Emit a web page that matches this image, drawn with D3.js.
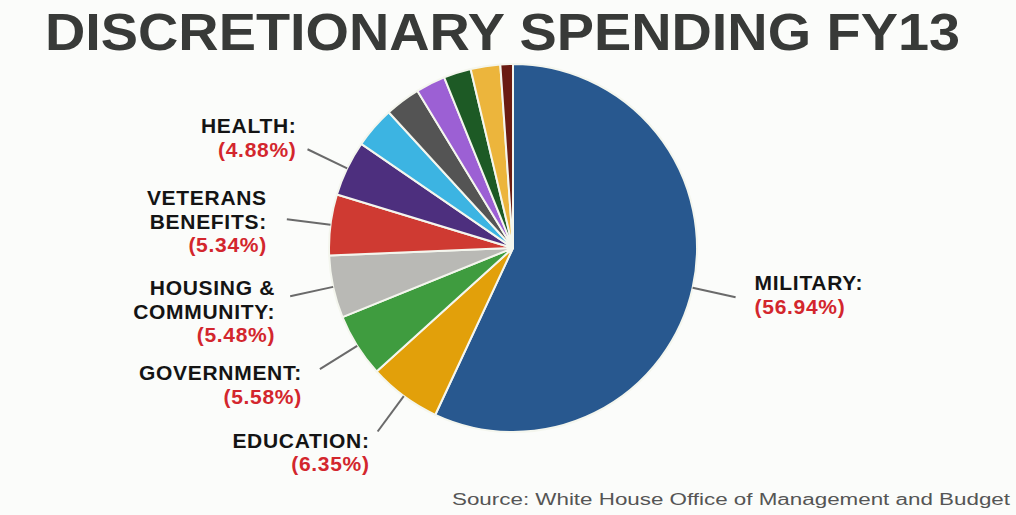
<!DOCTYPE html>
<html>
<head>
<meta charset="utf-8">
<script src="https://cdn.jsdelivr.net/npm/d3@7"></script>
<style>
  html, body { margin: 0; padding: 0; background: #fbfcfa; }
  svg { display: block; }
  .title { font-family: "Liberation Sans", Arial, sans-serif; font-weight: bold; fill: #383a38; }
  .lbl { font-family: "Liberation Sans", Arial, sans-serif; font-weight: bold; font-size: 21px; letter-spacing: 0.7px; }
  .lbl .name { fill: #141414; }
  .lbl .pct { fill: #d3262d; }
  .source { font-family: "Liberation Sans", Arial, sans-serif; font-size: 16px; fill: #555; }
  .leader { stroke: #6a6a6a; stroke-width: 2; fill: none; }
</style>
</head>
<body>
<svg id="chart" width="1016" height="515"></svg>
<script>
// slices, clockwise from 12 o'clock
const sliceIds = ['military', 'education', 'government', 'housing', 'veterans', 'health',
                  'other1', 'other2', 'other3', 'other4', 'other5', 'other6'];
const sliceValues = [56.94, 6.35, 5.58, 5.48, 5.34, 4.88, 3.63, 3.1, 2.6, 2.4, 2.6, 1.1];
const sliceColors = ['#28588f', '#e2a00a', '#3f9c3f', '#b9b9b5', '#cf3a32', '#4d2f7e',
                     '#3cb4e2', '#545454', '#9c60d4', '#1d5a25', '#ecb53c', '#6a1b12'];

// labelled slices only
const labelLines = {
  military: ['MILITARY:'],
  education: ['EDUCATION:'],
  government: ['GOVERNMENT:'],
  housing: ['HOUSING &', 'COMMUNITY:'],
  veterans: ['VETERANS', 'BENEFITS:'],
  health: ['HEALTH:']
};

const titleText = 'DISCRETIONARY SPENDING FY13';
const sourceText = 'Source: White House Office of Management and Budget';

///// layout /////
const cx = 513, cy = 248, r = 184, leadR = 228, lineH = 23.5;
// where the text block sits relative to the end of its leader line
const nudge = {
  military:   { dx: 19,  dy: -7,  anchor: 'start' },
  education:  { dx: -8,  dy: 16.5, anchor: 'end' },
  government: { dx: -18, dy: 11,  anchor: 'end' },
  housing:    { dx: -15, dy: -1,  anchor: 'end' },
  veterans:   { dx: -20, dy: -14, anchor: 'end' },
  health:     { dx: -11, dy: -16, anchor: 'end' }
};

const svg = d3.select('#chart');

svg.append('text').classed('title', true)
  .attr('x', 45).attr('y', 50)
  .style('font-size', '51px')
  .attr('textLength', 915).attr('lengthAdjust', 'spacingAndGlyphs')
  .text(titleText);

const data = sliceIds.map((id, i) => ({ id: id, value: sliceValues[i], color: sliceColors[i] }));

const pie = d3.pie().sort(null).value(d => d.value);
const arc = d3.arc().innerRadius(0).outerRadius(r);
const arcs = pie(data);

const pieG = svg.append('g').attr('transform', 'translate(' + cx + ',' + cy + ')');

pieG.selectAll('path.slice').data(arcs).enter().append('path')
  .classed('slice', true)
  .attr('d', arc)
  .attr('fill', d => d.data.color)
  .attr('stroke', '#f4f6ee')
  .attr('stroke-width', 2)
  .attr('stroke-linejoin', 'round');

///// leaders + labels /////
const labelled = arcs.filter(d => labelLines[d.data.id]);
const fmt = d3.format('.2f');

function polar(rad, ang) {
  return [cx + rad * Math.sin(ang), cy - rad * Math.cos(ang)];
}

labelled.forEach(d => {
  const mid = (d.startAngle + d.endAngle) / 2;
  const p0 = polar(r, mid), p1 = polar(leadR, mid);
  svg.append('line').classed('leader', true)
    .attr('x1', p0[0]).attr('y1', p0[1])
    .attr('x2', p1[0]).attr('y2', p1[1]);

  const n = nudge[d.data.id];
  const lines = labelLines[d.data.id].concat(['(' + fmt(d.data.value) + '%)']);
  const t = svg.append('text').classed('lbl', true)
    .attr('text-anchor', n.anchor)
    .attr('x', p1[0] + n.dx).attr('y', p1[1] + n.dy);
  lines.forEach((s, i) => {
    t.append('tspan')
      .classed(i === lines.length - 1 ? 'pct' : 'name', true)
      .attr('x', p1[0] + n.dx)
      .attr('dy', i === 0 ? 0 : lineH)
      .text(s);
  });
});

svg.append('text').classed('source', true)
  .attr('x', 452).attr('y', 505)
  .attr('textLength', 558).attr('lengthAdjust', 'spacingAndGlyphs')
  .text(sourceText);
</script>
</body>
</html>
